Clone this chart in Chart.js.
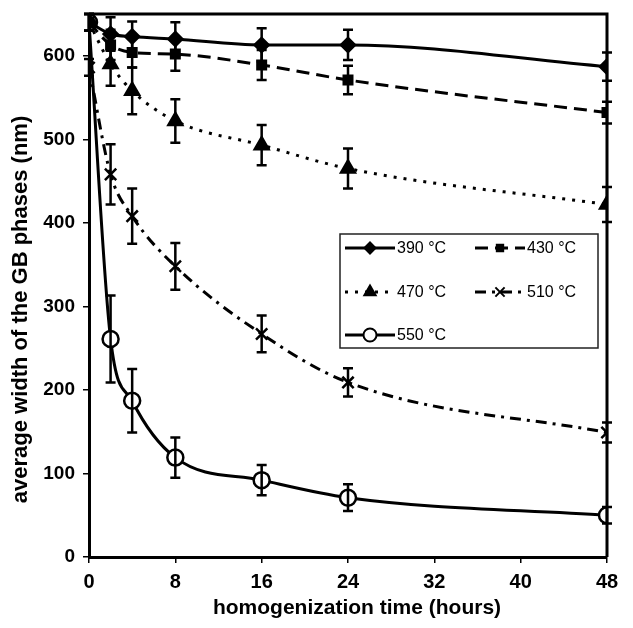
<!DOCTYPE html>
<html>
<head>
<meta charset="utf-8">
<script src="https://cdn.jsdelivr.net/npm/chart.js@4/dist/chart.umd.min.js"></script>
<style>
  html, body { margin: 0; padding: 0; background: #fff; }
  #wrap { width: 633px; height: 628px; }
</style>
</head>
<body>
<div id="wrap"><canvas id="gbChart" width="633" height="628"></canvas></div>
<script>
// homogenization time (hours)
const times = [0, 2, 4, 8, 16, 24, 48];

// average width of GB phases (nm) per temperature
const w390 = [640, 626, 623, 620, 613, 613, 587];
const w430 = [640, 613, 604, 602, 589, 571, 532];
const w470 = [640, 590, 558, 522, 493, 465, 422];
const w510 = [586, 458, 408, 348, 267, 209, 149];
const w550 = [640, 261, 187, 119, 92, 71, 50];

// error bar half-widths (nm)
const e390 = [10, 20, 18, 20, 20, 18, 17];
const e430 = [10, 18, 18, 20, 18, 17, 13];
const e470 = [10, 26, 28, 26, 24, 24, 21];
const e510 = [10, 36, 33, 28, 22, 17, 12];
const e550 = [10, 52, 38, 24, 18, 16, 10];

const seriesLabels = ['390 °C', '430 °C', '470 °C', '510 °C', '550 °C'];
const yTicks = [0, 100, 200, 300, 400, 500, 600];
const xTicks = [0, 8, 16, 24, 32, 40, 48];
const xTitle = 'homogenization time (hours)';
const yTitle = 'average width of the GB phases (nm)';

const FONT = "'Liberation Sans', Arial, sans-serif";

function pts(vals) {
    return vals.map((v, i) => ({ x: times[i], y: v }));
}

function makeSet(label, vals, errs, style, dash, radius, fill) {
    return {
        label: label,
        data: pts(vals),
        errors: errs,
        borderColor: '#000',
        backgroundColor: fill,
        borderWidth: 3,
        borderDash: dash,
        pointStyle: style,
        pointRadius: radius,
        pointBorderColor: '#000',
        pointBackgroundColor: fill,
        pointBorderWidth: 2.5,
        cubicInterpolationMode: 'monotone',
        fill: false
    };
}

const datasets = [
    makeSet(seriesLabels[0], w390, e390, 'rectRot', [], 7, '#000'),
    makeSet(seriesLabels[1], w430, e430, 'rect', [13, 7], 6, '#000'),
    makeSet(seriesLabels[2], w470, e470, 'triangle', [3, 7], 8, '#000'),
    makeSet(seriesLabels[3], w510, e510, 'crossRot', [11, 6, 3, 6], 8, '#000'),
    makeSet(seriesLabels[4], w550, e550, 'circle', [], 8, '#fff')
];

// draws vertical error bars with caps
const errorBars = {
    id: 'errorBars',
    afterDatasetsDraw(chart) {
        const ctx = chart.ctx;
        const xs = chart.scales.x, ys = chart.scales.y;
        ctx.save();
        ctx.strokeStyle = '#000';
        ctx.lineWidth = 2.5;
        chart.data.datasets.forEach(ds => {
            ds.data.forEach((p, j) => {
                const e = ds.errors[j];
                const x = xs.getPixelForValue(p.x);
                const t = ys.getPixelForValue(p.y + e);
                const b = ys.getPixelForValue(p.y - e);
                ctx.beginPath();
                ctx.moveTo(x, t); ctx.lineTo(x, b);
                ctx.moveTo(x - 5, t); ctx.lineTo(x + 5, t);
                ctx.moveTo(x - 5, b); ctx.lineTo(x + 5, b);
                ctx.stroke();
            });
        });
        ctx.restore();
    }
};

// frame around plot, axis titles and legend box inside the plot
const frameAndLegend = {
    id: 'frameAndLegend',
    afterDraw(chart) {
        const ctx = chart.ctx;
        const a = chart.chartArea;
        ctx.save();
        ctx.strokeStyle = '#000';
        ctx.lineWidth = 3;
        ctx.beginPath();
        ctx.moveTo(a.left, a.top);
        ctx.lineTo(a.right, a.top);
        ctx.lineTo(a.right, a.bottom);
        ctx.stroke();

        // axis titles
        ctx.fillStyle = '#000';
        ctx.textAlign = 'center';
        ctx.textBaseline = 'middle';
        ctx.font = 'bold 21px ' + FONT;
        ctx.fillText(xTitle, (a.left + a.right) / 2 + 9, a.bottom + 51);
        ctx.save();
        ctx.font = 'bold 22px ' + FONT;
        ctx.translate(21, (a.top + a.bottom) / 2 + 24);
        ctx.rotate(-Math.PI / 2);
        ctx.fillText(yTitle, 0, 0);
        ctx.restore();

        // legend
        const bx = a.left + 251, by = a.top + 220, bw = 258, bh = 114;
        ctx.fillStyle = '#fff';
        ctx.fillRect(bx, by, bw, bh);
        ctx.lineWidth = 1.5;
        ctx.strokeStyle = '#222';
        ctx.strokeRect(bx, by, bw, bh);

        const rows = [14, 58, 101];
        const cols = [5, 135];
        ctx.textAlign = 'left';
        chart.data.datasets.forEach((ds, i) => {
            const cx = bx + cols[i % 2];
            const cy = by + rows[Math.floor(i / 2)];
            ctx.save();
            ctx.strokeStyle = '#000';
            ctx.lineWidth = 3;
            ctx.setLineDash(ds.borderDash);
            ctx.beginPath();
            ctx.moveTo(cx, cy); ctx.lineTo(cx + 50, cy);
            ctx.stroke();
            ctx.setLineDash([]);
            ctx.fillStyle = ds.pointBackgroundColor;
            ctx.lineWidth = 2;
            Chart.helpers.drawPoint(ctx, {
                pointStyle: ds.pointStyle,
                radius: ds.pointRadius - 1.5,
                rotation: 0,
                borderWidth: 2
            }, cx + 25, cy);
            ctx.restore();
            ctx.fillStyle = '#000';
            ctx.font = '16px ' + FONT;
            ctx.fillText(ds.label, cx + 52, cy + 1);
        });
        ctx.restore();
    }
};

const ctx = document.getElementById('gbChart').getContext('2d');
const chart = new Chart(ctx, {
    type: 'line',
    data: { datasets: datasets },
    options: {
        responsive: false,
        animation: false,
        layout: { padding: { top: 14, right: 26, left: 0, bottom: 0 } },
        plugins: {
            legend: { display: false },
            tooltip: { enabled: false }
        },
        scales: {
            x: {
                type: 'linear',
                min: 0,
                max: 48,
                afterBuildTicks: axis => { axis.ticks = xTicks.map(v => ({ value: v })); },
                afterFit: scale => { scale.height = 71; },
                border: { display: true, color: '#000', width: 3 },
                grid: { drawOnChartArea: false, color: '#000', lineWidth: 1.5, tickLength: 6 },
                ticks: {
                    color: '#000',
                    padding: 7,
                    font: { family: FONT, size: 20, weight: 'bold' }
                }
            },
            y: {
                type: 'linear',
                min: 0,
                max: 650,
                afterBuildTicks: axis => { axis.ticks = yTicks.map(v => ({ value: v })); },
                afterFit: scale => {
                    scale.width = 89;
                    scale.paddingTop = 0;
                    scale.paddingBottom = 0;
                },
                border: { display: true, color: '#000', width: 3 },
                grid: { drawOnChartArea: false, color: '#000', lineWidth: 1.5, tickLength: 6 },
                ticks: {
                    color: '#000',
                    padding: 8,
                    font: { family: FONT, size: 19, weight: 'bold' }
                }
            }
        }
    },
    plugins: [errorBars, frameAndLegend]
});
</script>
</body>
</html>
